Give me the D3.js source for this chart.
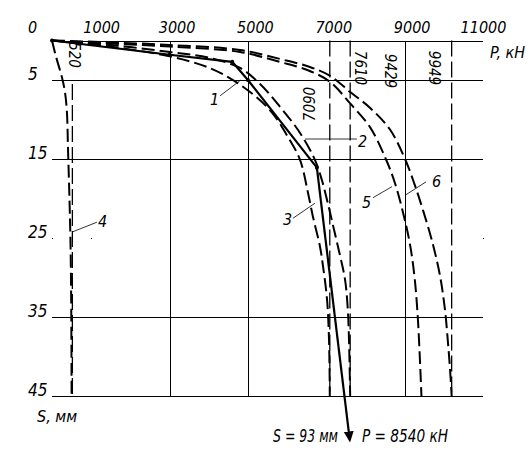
<!DOCTYPE html>
<html><head><meta charset="utf-8">
<script src="https://cdn.jsdelivr.net/npm/d3@7"></script>
<style>
html,body{margin:0;padding:0;background:#fff;}
svg{display:block;}
text{font-family:'Liberation Sans Narrow','DejaVu Sans Condensed','Liberation Sans',sans-serif;font-style:italic;fill:#000;}
</style></head><body>
<svg id="chart" width="531" height="463"></svg>
<script>
// ---- data ----
const pTicks = [0, 1000, 3000, 5000, 7000, 9000, 11000];
const sTicks = [5, 15, 25, 35, 45];
const pGrid = [3000, 5000, 9000];
const sGrid = [0, 5, 15, 35, 45];
const sFaintLine = 25;
const sFaintDotsP = [0, 1000, 5000, 11000];
const limitLines = [520, 7090, 7610, 10200];
const limitLabels = ["520", "7090", "7610", "9429", "9949"];

// curve 1 – test (solid)
const c1P = [0, 3000, 4600, 5000, 6760];
const c1S = [0, 1.8, 2.7, 5.0, 16.1];
const c1ArrowP = [6760, 7600];
const c1ArrowS = [16.1, 50.6];
// curve 2
const c2P = [0, 1480, 3010, 4030, 4800, 5310, 5820, 6330, 6710, 6890, 7040, 7200, 7350, 7480, 7550, 7580, 7610];
const c2S = [0, 0.57, 1.46, 2.21, 3.48, 5.5, 8.4, 11.7, 15.1, 17.7, 20.6, 24.0, 27.2, 30.3, 34.1, 37.9, 45];
// curve 3
const c3P = [0, 1500, 3000, 4030, 4800, 5560, 6020, 6330, 6530, 6660, 6840, 6920, 7020, 7070, 7090];
const c3S = [0, 0.8, 2.0, 3.5, 5.6, 8.8, 12.2, 15.1, 19.2, 22.3, 26.1, 28.7, 32.8, 37.9, 45];
// curve 4
const c4P = [0, 100, 250, 330, 380, 410, 440, 470, 490, 500];
const c4S = [0, 2, 4.6, 6.5, 9, 14, 19, 25, 33, 45];
// curve 5
const c5P = [0, 1230, 3010, 4800, 5820, 6580, 7100, 7610, 8120, 8520, 8750, 8960, 9140, 9260, 9340, 9390, 9429];
const c5S = [0, 0.32, 0.76, 1.46, 2.72, 3.86, 5.25, 7.97, 11.0, 15.0, 18.0, 21.8, 25.9, 30.3, 35.4, 40.4, 45];
// curve 6
const c6P = [0, 1230, 3010, 4800, 5820, 6580, 7100, 7610, 8120, 8630, 9010, 9260, 9470, 9700, 9900, 10030, 10110, 10160, 10200];
const c6S = [0, 0.19, 0.57, 1.2, 2.34, 3.35, 4.49, 6.52, 8.54, 11.3, 15.0, 18.3, 21.5, 25.4, 29.7, 34.1, 38.5, 41.7, 45];

// ---- drawing ----
const svg = d3.select("#chart");
const x = d3.scaleLinear().domain([0, 11000]).range([52, 483]);
const y = d3.scaleLinear().domain([0, 45]).range([40.5, 396]);
const zip = (P, S) => P.map((p, i) => [p, S[i]]);

svg.append("defs").append("marker")
  .attr("id", "arr").attr("viewBox", "0 0 10 10").attr("refX", 8).attr("refY", 5)
  .attr("markerWidth", 5).attr("markerHeight", 5).attr("orient", "auto")
  .append("path").attr("d", "M0,0.5 L10,5 L0,9.5 Z").attr("fill", "#000");

// grid
const g = svg.append("g").attr("shape-rendering", "crispEdges");
g.selectAll(".hg").data(sGrid).join("line")
  .attr("x1", x(0)).attr("x2", x(11000)).attr("y1", d => Math.round(y(d)) + 0.5).attr("y2", d => Math.round(y(d)) + 0.5)
  .attr("stroke", "#000").attr("stroke-width", 1);
g.selectAll(".vg").data(pGrid).join("line")
  .attr("x1", d => Math.round(x(d)) + 0.5).attr("x2", d => Math.round(x(d)) + 0.5).attr("y1", y(0)).attr("y2", y(45))
  .attr("stroke", "#000").attr("stroke-width", 1);
g.selectAll(".fd").data(sFaintDotsP).join("rect")
  .attr("x", d => Math.round(x(d))).attr("y", Math.round(y(sFaintLine))).attr("width", 1.2).attr("height", 1.2).attr("fill", "#000");

// limit lines
svg.selectAll(".lim").data(limitLines).join("line")
  .attr("x1", d => x(d)).attr("x2", d => x(d)).attr("y1", d => y(d === 520 ? 5.5 : 0)).attr("y2", y(45))
  .attr("stroke", "#000").attr("stroke-width", 1.3).attr("stroke-dasharray", "16,5");

// axes labels
const ax = svg.append("g").attr("transform", "translate(0,33)")
  .call(d3.axisTop(x).tickValues(pTicks).tickSize(0).tickPadding(0).tickFormat(d => String(d)));
ax.select(".domain").remove();
ax.selectAll("text").attr("font-size", 16).attr("font-family", null)
  .attr("dx", d => d === 0 ? -20 : d === 11000 ? 0 : d === 1000 ? 10 : 7);

const ay = svg.append("g")
  .call(d3.axisLeft(y).tickValues(sTicks).tickSize(0).tickPadding(0));
ay.select(".domain").remove();
ay.selectAll("text").attr("font-size", 17).attr("font-family", null)
  .attr("text-anchor", "start").attr("x", 28).attr("dy", "-0.05em");

svg.append("text").attr("x", x(11000) + 7).attr("y", 58).attr("font-size", 16).text("P, кН");
svg.append("text").attr("x", 37).attr("y", 422).attr("font-size", 16).text("S, мм");

// curves
const lineC = d3.line().x(d => x(d[0])).y(d => y(d[1])).curve(d3.curveCatmullRom.alpha(0.5));
[[c2P, c2S], [c3P, c3S], [c4P, c4S], [c5P, c5S], [c6P, c6S]].forEach(([P, S]) => {
  svg.append("path").datum(zip(P, S)).attr("d", lineC)
    .attr("fill", "none").attr("stroke", "#000").attr("stroke-width", 2).attr("stroke-dasharray", "13,5");
});
const lineL = d3.line().x(d => x(d[0])).y(d => y(d[1]));
svg.append("path").datum(zip(c1P, c1S)).attr("d", lineL)
  .attr("fill", "none").attr("stroke", "#000").attr("stroke-width", 2.2).attr("stroke-linejoin", "round");
svg.append("path").datum(zip(c1ArrowP, c1ArrowS)).attr("d", lineL)
  .attr("fill", "none").attr("stroke", "#000").attr("stroke-width", 2.2).attr("marker-end", "url(#arr)");
svg.selectAll(".pt").data(zip(c1P, c1S)).join("circle")
  .attr("cx", d => x(d[0])).attr("cy", d => y(d[1])).attr("r", 2).attr("fill", "#000");

// rotated limit labels
const rot = [
  {t: limitLabels[0], p: 561, s: 1.84, a: 90},
  {t: limitLabels[1], p: 6584, s: 8.04, a: -90},
  {t: limitLabels[2], p: 7860, s: 3.48, a: 90},
  {t: limitLabels[3], p: 8626, s: 3.86, a: 90},
  {t: limitLabels[4], p: 9749, s: 3.48, a: 90}
];
svg.selectAll(".rl").data(rot).join("text")
  .attr("transform", d => `translate(${x(d.p)},${y(d.s)}) rotate(${d.a})`)
  .attr("text-anchor", "middle").attr("dominant-baseline", "central").attr("font-size", 15)
  .text(d => d.t);

// curve numbers with leaders
const ann = [
  {t: "1", tp: 4030, ts: 8.2, l: [[4290, 7.0], [4820, 5.0]]},
  {t: "2", tp: 7810, ts: 13.5, l: [[6460, 12.47], [7780, 12.47]]},
  {t: "3", tp: 5895, ts: 23.35, l: [[6150, 22.5], [6710, 20.6]]},
  {t: "4", tp: 1174, ts: 23.6, l: [[1148, 23.0], [536, 24.2]]},
  {t: "5", tp: 7911, ts: 21.2, l: [[8192, 19.9], [8677, 18.5]]},
  {t: "6", tp: 9698, ts: 18.5, l: [[9545, 17.9], [9009, 19.6]]}
];
ann.forEach(a => {
  svg.append("path").datum(a.l).attr("d", lineL).attr("fill", "none").attr("stroke", "#000").attr("stroke-width", 0.8);
  svg.append("text").attr("x", x(a.tp)).attr("y", y(a.ts)).attr("font-size", 16).text(a.t);
});

// bottom note
svg.append("text").attr("x", 273).attr("y", 442).attr("font-size", 18)
  .attr("textLength", 65).attr("lengthAdjust", "spacingAndGlyphs").text("S = 93 мм");
svg.append("text").attr("x", 362).attr("y", 442).attr("font-size", 18)
  .attr("textLength", 86).attr("lengthAdjust", "spacingAndGlyphs").text("P = 8540 кН");
</script>
</body></html>
